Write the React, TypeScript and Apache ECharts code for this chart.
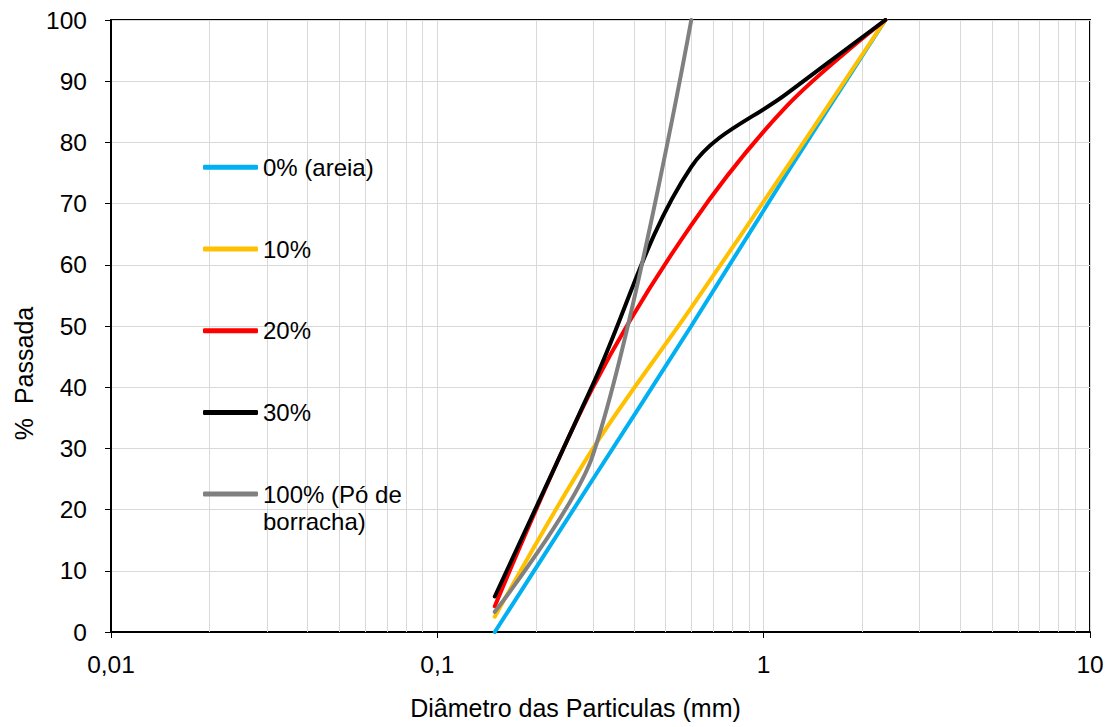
import React, { useEffect, useRef } from "react";
import * as echarts from "echarts";

// Sieve sizes (mm)
const sieveSizes = [0.15, 0.3, 0.6, 1.18, 2.36];
const sieveSizesRubber = [0.15, 0.3, 0.6];

// % passing for each mix
const areia0 = [0, 25, 50, 75, 100];
const borracha10 = [2.5, 30, 53, 76, 100];
const borracha20 = [4.2, 40, 66.5, 86, 100];
const borracha30 = [5.8, 40.5, 76, 88, 100];
const borracha100 = [3.3, 29, 100];

const seriesNames = ["0% (areia)", "10%", "20%", "30%", "100% (Pó de borracha)"];
const seriesColors = ["#00B0F0", "#FFC000", "#FF0000", "#000000", "#808080"];
const seriesSmooth = [0.35, 0.35, 0.35, 0.35, 0.3];

// Log-axis minor grid values
const minorGridValues = [
  0.02, 0.03, 0.04, 0.05, 0.06, 0.07, 0.08, 0.09,
  0.2, 0.3, 0.4, 0.5, 0.6, 0.7, 0.8, 0.9,
  2, 3, 4, 5, 6, 7, 8, 9,
];

const xTitle = "Diâmetro das Particulas (mm)";
const yTitle = "%  Passada";

const FONT = "'Liberation Sans', Arial, sans-serif";

function pairs(xs: number[], ys: number[]) {
  return ys.map((y, i) => [xs[i], y]);
}

export default function App() {
  const ref = useRef<HTMLDivElement>(null);

  useEffect(() => {
    if (!ref.current) return;
    const chart = echarts.init(ref.current, null, { renderer: "svg" });

    const lineSeries = [
      pairs(sieveSizes, areia0),
      pairs(sieveSizes, borracha10),
      pairs(sieveSizes, borracha20),
      pairs(sieveSizes, borracha30),
      pairs(sieveSizesRubber, borracha100),
    ].map((data, i) => ({
      type: "line",
      name: seriesNames[i],
      data,
      smooth: seriesSmooth[i],
      showSymbol: false,
      symbol: "none",
      z: 3,
      lineStyle: { color: seriesColors[i], width: 4, cap: "round" },
      itemStyle: { color: seriesColors[i] },
    }));

    const legendBase = {
      orient: "vertical",
      left: 203,
      padding: 0,
      itemWidth: 55,
      itemHeight: 5,
      icon: "roundRect",
      selectedMode: false,
    };

    chart.setOption({
      animation: false,
      textStyle: { fontFamily: FONT },
      grid: {
        left: 111,
        top: 20,
        right: 20,
        bottom: 95,
        show: true,
        borderColor: "#000",
        borderWidth: 2,
        backgroundColor: "transparent",
      },
      xAxis: {
        type: "log",
        logBase: 10,
        min: 0.01,
        max: 10,
        axisLine: { show: true, lineStyle: { color: "#000", width: 2 } },
        axisTick: { show: true, inside: false, length: 6, lineStyle: { color: "#000", width: 1 } },
        splitLine: { show: true, lineStyle: { color: "#D9D9D9", width: 1 } },
        axisLabel: {
          margin: 20,
          fontSize: 24.5,
          color: "#000",
          fontFamily: FONT,
          formatter: (v: number) => String(Number(v.toPrecision(3))).replace(".", ","),
        },
      },
      yAxis: {
        type: "value",
        min: 0,
        max: 100,
        interval: 10,
        axisLine: { show: true, onZero: false, lineStyle: { color: "#000", width: 2 } },
        axisTick: { show: true, inside: false, length: 6, lineStyle: { color: "#000", width: 1 } },
        splitLine: { show: true, lineStyle: { color: "#D9D9D9", width: 1 } },
        axisLabel: { margin: 24, fontSize: 24.5, color: "#000", fontFamily: FONT },
      },
      legend: [
        {
          ...legendBase,
          top: 153.3,
          itemGap: 53.7,
          data: seriesNames.slice(0, 4),
          textStyle: { fontSize: 24, color: "#000", fontFamily: FONT, lineHeight: 28 },
        },
        {
          ...legendBase,
          top: 453.5,
          data: [seriesNames[4]],
          formatter: () => "\n100% (Pó de\nborracha)",
          textStyle: {
            fontSize: 24,
            color: "#000",
            fontFamily: FONT,
            lineHeight: 27,
          },
        },
      ],
      graphic: [
        {
          type: "text",
          x: 575.5,
          y: 708,
          silent: true,
          style: {
            text: xTitle,
            fontSize: 25,
            fontFamily: FONT,
            fill: "#000",
            align: "center",
            verticalAlign: "middle",
          },
        },
        {
          type: "text",
          x: 24,
          y: 373.5,
          rotation: Math.PI / 2,
          silent: true,
          style: {
            text: yTitle,
            fontSize: 25,
            fontFamily: FONT,
            fill: "#000",
            align: "center",
            verticalAlign: "middle",
          },
        },
      ],
      series: [
        {
          type: "custom",
          name: "grid-minor",
          silent: true,
          z: 1,
          data: minorGridValues.map((v) => [v, 0]),
          renderItem: (_params: any, api: any) => {
            const x = api.value(0);
            const p1 = api.coord([x, 0]);
            const p2 = api.coord([x, 100]);
            const px = Math.round(p1[0]) + 0.5;
            return {
              type: "line",
              shape: { x1: px, y1: p1[1], x2: px, y2: p2[1] },
              style: { stroke: "#D9D9D9", lineWidth: 1 },
            };
          },
        },
        ...lineSeries,
      ],
    } as any);

    return () => chart.dispose();
  }, []);

  return (
    <div
      ref={ref}
      style={{ position: "fixed", left: 0, top: 0, width: 1110, height: 727, background: "#fff" }}
    />
  );
}
